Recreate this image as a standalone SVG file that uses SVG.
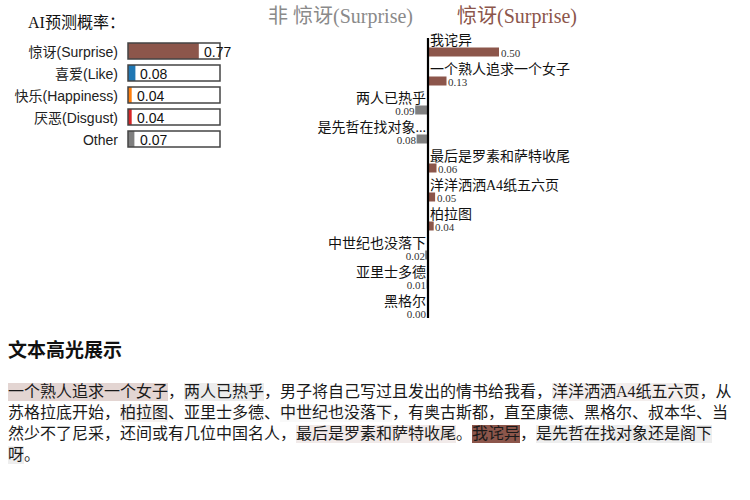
<svg xmlns="http://www.w3.org/2000/svg" width="750" height="500" viewBox="0 0 750 500">
<style>
.serif{font-family:"Liberation Serif","Noto Sans CJK SC",serif;}
.sans{font-family:"Liberation Sans","Noto Sans CJK SC",sans-serif;}
.lbl{font-size:14px;fill:#222;}
.val{font-size:14px;fill:#111;}
.box{fill:none;stroke:#444;stroke-width:1.5;}
.cl{font-size:14px;fill:#111;}
.cv{font-size:11px;fill:#333;}
.pos{fill:#8c564b;}
.neg{fill:#7f7f7f;}
.para{font-size:16px;fill:#1a1a1a;}
</style>
<rect width="750" height="500" fill="#fff"/>

<g id="prob-panel">
  <text class="serif" x="28" y="28" font-size="16" fill="#111">AI预测概率：</text>
  <g id="row-surprise">
    <text class="sans lbl" x="118" y="57" text-anchor="end">惊讶(Surprise)</text>
    <rect x="128" y="43" width="70.8" height="16" fill="#8c564b"/>
    <rect class="box" x="128" y="43" width="92" height="16"/>
    <text class="sans val" x="204" y="57">0.77</text>
  </g>
  <g id="row-like">
    <text class="sans lbl" x="118" y="79" text-anchor="end">喜爱(Like)</text>
    <rect x="128" y="65" width="7.4" height="16" fill="#1f77b4"/>
    <rect class="box" x="128" y="65" width="92" height="16"/>
    <text class="sans val" x="140" y="79">0.08</text>
  </g>
  <g id="row-happiness">
    <text class="sans lbl" x="118" y="101" text-anchor="end">快乐(Happiness)</text>
    <rect x="128" y="87" width="3.7" height="16" fill="#ff7f0e"/>
    <rect class="box" x="128" y="87" width="92" height="16"/>
    <text class="sans val" x="137" y="101">0.04</text>
  </g>
  <g id="row-disgust">
    <text class="sans lbl" x="118" y="123" text-anchor="end">厌恶(Disgust)</text>
    <rect x="128" y="109" width="3.7" height="16" fill="#d62728"/>
    <rect class="box" x="128" y="109" width="92" height="16"/>
    <text class="sans val" x="137" y="123">0.04</text>
  </g>
  <g id="row-other">
    <text class="sans lbl" x="118" y="145" text-anchor="end">Other</text>
    <rect x="128" y="131" width="6.4" height="16" fill="#7f7f7f"/>
    <rect class="box" x="128" y="131" width="92" height="16"/>
    <text class="sans val" x="140" y="145">0.07</text>
  </g>
</g>

<g id="word-chart">
  <text class="serif" x="268" y="23" font-size="20" fill="#8a8a8a">非 惊讶(Surprise)</text>
  <text class="serif" x="457" y="23" font-size="20" fill="#8c564b">惊讶(Surprise)</text>

  <g id="w1"><text class="serif cl" x="430" y="45">我诧异</text><rect class="pos" x="428" y="47.5" width="71" height="9"/><text class="serif cv" x="501" y="57">0.50</text></g>
  <g id="w2"><text class="serif cl" x="430" y="74">一个熟人追求一个女子</text><rect class="pos" x="428" y="76.5" width="18.5" height="9"/><text class="serif cv" x="448" y="86">0.13</text></g>
  <g id="w3"><text class="serif cl" x="426" y="103" text-anchor="end">两人已热乎</text><rect class="neg" x="415.2" y="105.5" width="12.8" height="9"/><text class="serif cv" x="414.5" y="115" text-anchor="end">0.09</text></g>
  <g id="w4"><text class="serif cl" x="426" y="132" text-anchor="end">是先哲在找对象...</text><rect class="neg" x="416.6" y="134.5" width="11.4" height="9"/><text class="serif cv" x="416" y="144" text-anchor="end">0.08</text></g>
  <g id="w5"><text class="serif cl" x="430" y="161">最后是罗素和萨特收尾</text><rect class="pos" x="428" y="163.5" width="8.5" height="9"/><text class="serif cv" x="438" y="173">0.06</text></g>
  <g id="w6"><text class="serif cl" x="430" y="190">洋洋洒洒A4纸五六页</text><rect class="pos" x="428" y="192.5" width="7.1" height="9"/><text class="serif cv" x="437" y="202">0.05</text></g>
  <g id="w7"><text class="serif cl" x="430" y="219">柏拉图</text><rect class="pos" x="428" y="221.5" width="5.7" height="9"/><text class="serif cv" x="435" y="231">0.04</text></g>
  <g id="w8"><text class="serif cl" x="426" y="248" text-anchor="end">中世纪也没落下</text><rect class="neg" x="425.2" y="250.5" width="2.8" height="9"/><text class="serif cv" x="425" y="260" text-anchor="end">0.02</text></g>
  <g id="w9"><text class="serif cl" x="426" y="277" text-anchor="end">亚里士多德</text><rect class="neg" x="426.6" y="279.5" width="1.4" height="9"/><text class="serif cv" x="426" y="289" text-anchor="end">0.01</text></g>
  <g id="w10"><text class="serif cl" x="426" y="306" text-anchor="end">黑格尔</text><text class="serif cv" x="426" y="318" text-anchor="end">0.00</text></g>

  <g id="connectors">
    <line x1="428" y1="38" x2="428" y2="318" stroke="#000" stroke-width="2.2"/>
  </g>
</g>

<g id="highlight">
  <text x="8" y="357" font-family="'Noto Sans CJK SC',sans-serif" font-weight="bold" font-size="19" fill="#111">文本高光展示</text>
  <g id="marks">
    <rect x="8" y="383" width="160" height="18" fill="#e3d5d2"/>
    <rect x="184" y="383" width="80" height="18" fill="#ececec"/>
    <rect x="552" y="383" width="147.5" height="18" fill="#f3eeed"/>
    <rect x="120" y="404" width="48" height="18" fill="#f5f1f0"/>
    <rect x="184" y="404" width="80" height="18" fill="#fdfdfd"/>
    <rect x="280" y="404" width="112" height="18" fill="#f9f9f9"/>
    <rect x="296" y="425" width="160" height="18" fill="#f1eae9"/>
    <rect x="472" y="425" width="48" height="18" fill="#8c564b"/>
    <rect x="536" y="425" width="176" height="18" fill="#eeeeee"/>
    <rect x="8" y="446" width="16" height="18" fill="#eeeeee"/>
  </g>
  <text class="serif para" x="8" y="397">一个熟人追求一个女子，两人已热乎，男子将自己写过且发出的情书给我看，洋洋洒洒A4纸五六页，从</text>
  <text class="serif para" x="8" y="418">苏格拉底开始，柏拉图、亚里士多德、中世纪也没落下，有奥古斯都，直至康德、黑格尔、叔本华、当</text>
  <text class="serif para" x="8" y="439">然少不了尼采，还间或有几位中国名人，最后是罗素和萨特收尾。我诧异，是先哲在找对象还是阁下</text>
  <text class="serif para" x="8" y="460">呀。</text>
</g>
</svg>
